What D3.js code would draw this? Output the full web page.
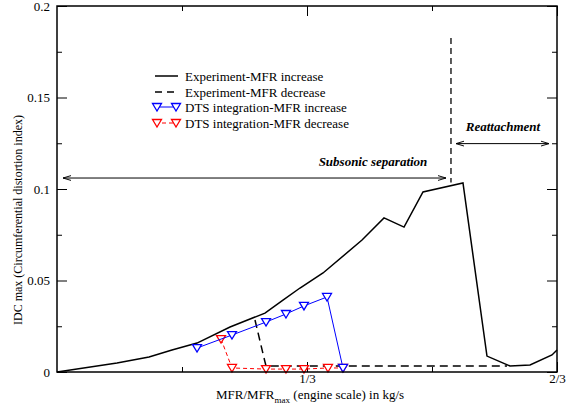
<!DOCTYPE html>
<html>
<head>
<meta charset="utf-8">
<script src="https://cdn.jsdelivr.net/npm/d3@7"></script>
<style>
  body { margin: 0; background: #fff; }
  svg text { font-family: "Times New Roman", "Liberation Serif", "DejaVu Serif", serif !important; }
</style>
</head>
<body>
<div id="chart"></div>
<script>
// experiment, MFR increase (solid black)
var expIncX = [0, 0.080, 0.1227, 0.1533, 0.1867, 0.2307, 0.2773, 0.3013, 0.324, 0.3547, 0.4067, 0.436, 0.4627, 0.488, 0.5413, 0.5733, 0.604, 0.6307, 0.66, 0.6667];
var expIncY = [0, 0.0049, 0.0082, 0.0120, 0.0158, 0.0246, 0.0322, 0.0393, 0.0459, 0.0541, 0.0721, 0.0842, 0.0792, 0.0984, 0.1033, 0.0087, 0.0033, 0.0038, 0.0093, 0.012];
// experiment, MFR decrease (dashed black)
var expDecX = [0.264, 0.2773, 0.2787, 0.60];
var expDecY = [0.0284, 0.0055, 0.0033, 0.0033];
// DTS integration
var dtsIncX = [0.1867, 0.2333, 0.2787, 0.3053, 0.3293, 0.36, 0.3813];
var dtsIncY = [0.0131, 0.0202, 0.0273, 0.0317, 0.0361, 0.0410, 0.0022];
var dtsDecX = [0.2187, 0.2333, 0.2787, 0.3053, 0.3293, 0.3613, 0.3813];
var dtsDecY = [0.0180, 0.0022, 0.0016, 0.0016, 0.0016, 0.0022, 0.0022];

var yMajor = [0, 0.05, 0.1, 0.15, 0.2];
var yMinor = [0.025, 0.075, 0.125, 0.175];
var xMajor = [1/3, 2/3];
var xMinor = [1/6, 1/2];
var xLabels = ["1/3", "2/3"];

var legendNames = ["Experiment-MFR increase", "Experiment-MFR decrease", "DTS integration-MFR increase", "DTS integration-MFR decrease"];

const width = 582, height = 408;
const mLeft = 57, mRight = 557, mTop = 6, mBottom = 372;
const serif = "'Times New Roman', 'Liberation Serif', serif";

var svg = d3.select("#chart").append("svg")
  .attr("width", width)
  .attr("height", height)
  .style("font-family", serif);

var x = d3.scaleLinear().domain([0, 2/3]).range([mLeft, mRight]);
var y = d3.scaleLinear().domain([0, 0.2]).range([mBottom, mTop]);

// arrow heads
var defs = svg.append("defs");
defs.append("marker")
  .attr("id", "arr")
  .attr("viewBox", "0 0 10 10")
  .attr("refX", 10).attr("refY", 5)
  .attr("markerWidth", 8).attr("markerHeight", 8)
  .attr("markerUnits", "userSpaceOnUse")
  .attr("orient", "auto-start-reverse")
  .append("path")
  .attr("d", "M0,2 L10,5 L0,8")
  .attr("fill", "none")
  .attr("stroke", "#000")
  .attr("stroke-width", 1.2);

// axes (ticks point inside)
function styleAxis(g) {
  g.attr("font-family", serif);
  g.select(".domain").remove();
  g.selectAll("line").attr("stroke", "#000").attr("stroke-width", 1);
  g.selectAll("text").attr("font-size", 13).attr("fill", "#000");
}

svg.append("g").attr("transform", `translate(${mLeft},0)`)
  .call(d3.axisLeft(y).tickValues(yMajor).tickSize(-10).tickPadding(7)
    .tickFormat(function(d) { return d3.format("")(+d.toFixed(3)); }))
  .call(styleAxis);
svg.append("g").attr("transform", `translate(${mLeft},0)`)
  .call(d3.axisLeft(y).tickValues(yMinor).tickSize(-5).tickFormat(""))
  .call(styleAxis);
svg.append("g").attr("transform", `translate(${mRight},0)`)
  .call(d3.axisRight(y).tickValues(yMajor).tickSize(-10).tickFormat(""))
  .call(styleAxis);
svg.append("g").attr("transform", `translate(${mRight},0)`)
  .call(d3.axisRight(y).tickValues(yMinor).tickSize(-5).tickFormat(""))
  .call(styleAxis);

svg.append("g").attr("transform", `translate(0,${mBottom})`)
  .call(d3.axisBottom(x).tickValues(xMajor).tickSize(-10).tickPadding(2)
    .tickFormat(function(d, i) { return xLabels[i]; }))
  .call(styleAxis);
svg.append("g").attr("transform", `translate(0,${mBottom})`)
  .call(d3.axisBottom(x).tickValues(xMinor).tickSize(-5).tickFormat(""))
  .call(styleAxis);
svg.append("g").attr("transform", `translate(0,${mTop})`)
  .call(d3.axisTop(x).tickValues(xMajor).tickSize(-10).tickFormat(""))
  .call(styleAxis);
svg.append("g").attr("transform", `translate(0,${mTop})`)
  .call(d3.axisTop(x).tickValues(xMinor).tickSize(-5).tickFormat(""))
  .call(styleAxis);

// axis titles
svg.append("text")
  .attr("transform", `translate(22,220) rotate(-90)`)
  .attr("text-anchor", "middle")
  .attr("font-size", 12)
  .text("IDC max (Circumferential distortion index)");

var xt = svg.append("text")
  .attr("x", 216).attr("y", 399)
  .attr("font-size", 13);
xt.append("tspan").text("MFR/MFR");
xt.append("tspan").attr("font-size", 9).attr("dy", 4).text("max");
xt.append("tspan").attr("dy", -4).text(" (engine scale) in kg/s");

// annotation arrows and texts
svg.append("line")
  .attr("x1", 63).attr("x2", 446)
  .attr("y1", y(0.106)).attr("y2", y(0.106))
  .attr("stroke", "#000").attr("stroke-width", 1)
  .attr("marker-start", "url(#arr)").attr("marker-end", "url(#arr)");
svg.append("line")
  .attr("x1", 456).attr("x2", 549)
  .attr("y1", y(0.1248)).attr("y2", y(0.1248))
  .attr("stroke", "#000").attr("stroke-width", 1)
  .attr("marker-start", "url(#arr)").attr("marker-end", "url(#arr)");
svg.append("text")
  .attr("x", 373).attr("y", 166)
  .attr("text-anchor", "middle")
  .attr("font-size", 13).attr("font-weight", "bold").attr("font-style", "italic")
  .text("Subsonic separation");
svg.append("text")
  .attr("x", 503).attr("y", 131)
  .attr("text-anchor", "middle")
  .attr("font-size", 13).attr("font-weight", "bold").attr("font-style", "italic")
  .text("Reattachment");

// separation boundary (dashed vertical)
svg.append("line")
  .attr("x1", x(0.5253)).attr("x2", x(0.5253))
  .attr("y1", y(0.1825)).attr("y2", y(0.1035))
  .attr("stroke", "#333").attr("stroke-width", 1.6)
  .attr("stroke-dasharray", "6,4");

var line = d3.line().x(function(d) { return x(d[0]); }).y(function(d) { return y(d[1]); });

function pts(xs, ys) { return xs.map(function(v, i) { return [v, ys[i]]; }); }

svg.append("path").datum(pts(expIncX, expIncY))
  .attr("d", line).attr("fill", "none")
  .attr("stroke", "#000").attr("stroke-width", 1.5);
svg.append("path").datum(pts(expDecX, expDecY))
  .attr("d", line).attr("fill", "none")
  .attr("stroke", "#000").attr("stroke-width", 1.5)
  .attr("stroke-dasharray", "8,5");

var tri = "M-4.5,-3.5 L4.5,-3.5 L0,4 Z";

function dts(xs, ys, color, dash) {
  var data = pts(xs, ys);
  svg.append("path").datum(data)
    .attr("d", line).attr("fill", "none")
    .attr("stroke", color).attr("stroke-width", 1)
    .attr("stroke-dasharray", dash);
  svg.selectAll(null).data(data).enter().append("path")
    .attr("d", tri)
    .attr("transform", function(d) { return `translate(${x(d[0])},${y(d[1])})`; })
    .attr("fill", "#fff").attr("stroke", color).attr("stroke-width", 1.3);
}
dts(dtsDecX, dtsDecY, "#ff0000", "4,3");
dts(dtsIncX, dtsIncY, "#0000ff", null);

// legend
var legendY = [76, 92, 107, 123];
var leg = svg.append("g");
legendNames.forEach(function(name, i) {
  var ly = legendY[i];
  var color = i < 2 ? "#000" : (i === 2 ? "#0000ff" : "#ff0000");
  leg.append("line")
    .attr("x1", 155).attr("x2", 178).attr("y1", ly).attr("y2", ly)
    .attr("stroke", color).attr("stroke-width", i < 2 ? 1.5 : 1)
    .attr("stroke-dasharray", i === 1 ? "7,5" : (i === 3 ? "4,3" : null));
  if (i >= 2) {
    [157, 176].forEach(function(mx) {
      leg.append("path").attr("d", tri)
        .attr("transform", `translate(${mx},${ly})`)
        .attr("fill", "#fff").attr("stroke", color).attr("stroke-width", 1.3);
    });
  }
  leg.append("text")
    .attr("x", 185).attr("y", ly + 4.5)
    .attr("font-size", 13)
    .text(name);
});

// frame
svg.append("rect")
  .attr("x", mLeft).attr("y", mTop)
  .attr("width", mRight - mLeft).attr("height", mBottom - mTop)
  .attr("fill", "none").attr("stroke", "#000").attr("stroke-width", 1.5);
</script>
</body>
</html>
